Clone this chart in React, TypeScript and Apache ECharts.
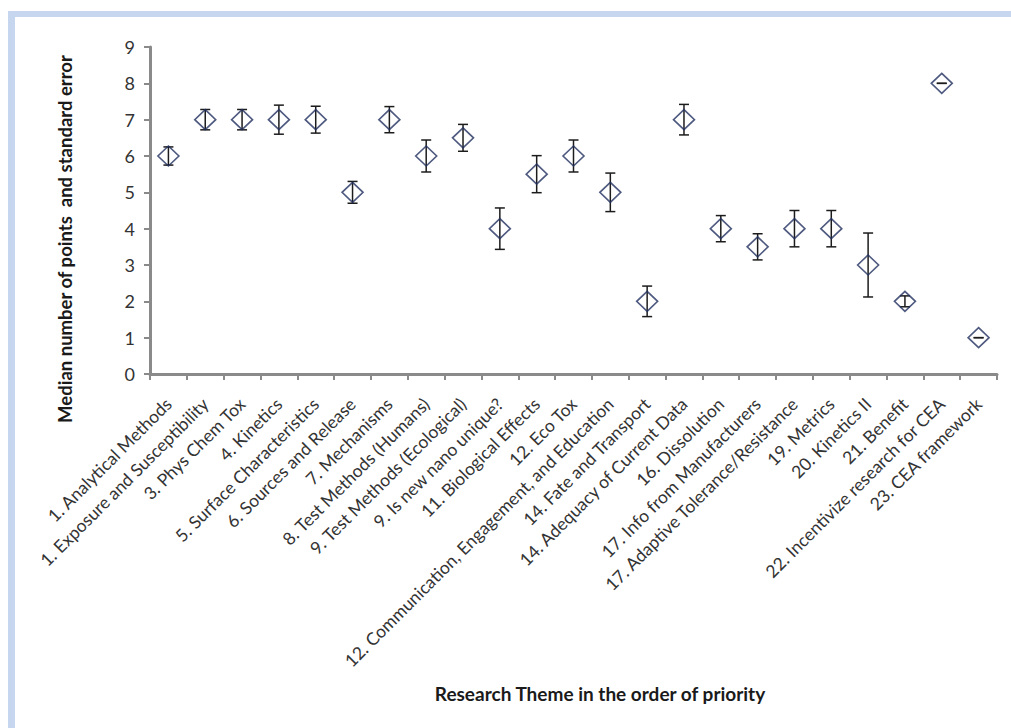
import React, { useEffect, useRef } from "react";
import * as echarts from "echarts";

const categories = [
  "1. Analytical Methods",
  "1. Exposure and Susceptibility",
  "3. Phys Chem Tox",
  "4. Kinetics",
  "5. Surface Characteristics",
  "6. Sources and Release",
  "7. Mechanisms",
  "8. Test Methods (Humans)",
  "9. Test Methods (Ecological)",
  "9. Is new nano unique?",
  "11. Biological Effects",
  "12. Eco Tox",
  "12. Communication, Engagement, and Education",
  "14. Fate and Transport",
  "14. Adequacy of Current Data",
  "16. Dissolution",
  "17. Info from Manufacturers",
  "17. Adaptive Tolerance/Resistance",
  "19. Metrics",
  "20. Kinetics II",
  "21. Benefit",
  "22. Incentivize research for CEA",
  "23. CEA framework",
];

const medians = [6, 7, 7, 7, 7, 5, 7, 6, 6.5, 4, 5.5, 6, 5, 2, 7, 4, 3.5, 4, 4, 3, 2, 8, 1];
const stdErrors = [
  0.25, 0.28, 0.28, 0.4, 0.37, 0.3, 0.36, 0.44, 0.37, 0.57, 0.51, 0.44, 0.53, 0.42, 0.42, 0.36,
  0.36, 0.5, 0.5, 0.88, 0.15, 0, 0,
];

const yMin = 0;
const yMax = 9;
const yInterval = 1;

const yTitle = "Median number of points  and standard error";
const xTitle = "Research Theme in the order of priority";

const FONT = "Lato, 'Open Sans', 'DejaVu Sans', sans-serif";

export default function App() {
  const ref = useRef<HTMLDivElement>(null);

  useEffect(() => {
    if (!ref.current) return;
    const chart = echarts.init(ref.current, null, { renderer: "svg" });
    const errData = categories.map((c, i) => [i, medians[i], stdErrors[i]]);
    const option = {
      animation: false,
      backgroundColor: "#ffffff",
      textStyle: { fontFamily: FONT },
      grid: { left: 150, right: 14, top: 47, bottom: 354, containLabel: false },
      graphic: [
        { type: "rect", shape: { x: 8, y: 11, width: 1003, height: 6 }, style: { fill: "#c6d6ee" }, silent: true },
        { type: "rect", shape: { x: 8, y: 11, width: 7, height: 717 }, style: { fill: "#c6d6ee" }, silent: true },
        {
          type: "text",
          x: 65,
          y: 239,
          rotation: Math.PI / 2,
          style: {
            text: yTitle,
            fontFamily: FONT,
            fontSize: 18.5,
            fontWeight: "bold",
            fill: "#1a1a1a",
            textAlign: "center",
            textVerticalAlign: "middle",
          },
        },
        {
          type: "text",
          x: 600,
          y: 693,
          style: {
            text: xTitle,
            fontFamily: FONT,
            fontSize: 19,
            fontWeight: "bold",
            fill: "#1a1a1a",
            textAlign: "center",
            textVerticalAlign: "middle",
          },
        },
      ],
      xAxis: {
        type: "category",
        data: categories,
        boundaryGap: true,
        axisLine: { show: true, lineStyle: { color: "#8a8a8a", width: 3 } },
        axisTick: { show: true, alignWithLabel: false, length: 6, lineStyle: { color: "#8a8a8a", width: 2 } },
        axisLabel: {
          interval: 0,
          rotate: 45,
          margin: 27,
          fontSize: 17.5,
          color: "#333333",
          fontFamily: FONT,
        },
        splitLine: { show: false },
      },
      yAxis: {
        type: "value",
        min: yMin,
        max: yMax,
        interval: yInterval,
        axisLine: { show: true, lineStyle: { color: "#8a8a8a", width: 3 } },
        axisTick: { show: true, length: 6, lineStyle: { color: "#8a8a8a", width: 2 } },
        axisLabel: { fontSize: 18, color: "#333333", margin: 15, fontFamily: FONT },
        splitLine: { show: false },
      },
      series: [
        {
          type: "custom",
          data: errData,
          encode: { x: 0, y: 1 },
          z: 2,
          renderItem: (params: any, api: any) => {
            const x = api.value(0);
            const m = api.value(1);
            const e = api.value(2);
            const top = api.coord([x, m + e]);
            const bot = api.coord([x, m - e]);
            const hw = 5;
            const style = { stroke: "#1c1c1c", lineWidth: 1.5 };
            return {
              type: "group",
              children: [
                { type: "line", shape: { x1: top[0], y1: top[1], x2: bot[0], y2: bot[1] }, style },
                { type: "line", shape: { x1: top[0] - hw, y1: top[1], x2: top[0] + hw, y2: top[1] }, style },
                { type: "line", shape: { x1: bot[0] - hw, y1: bot[1], x2: bot[0] + hw, y2: bot[1] }, style },
              ],
            };
          },
        },
        {
          type: "scatter",
          data: medians,
          symbol: "diamond",
          symbolSize: [21, 20],
          z: 3,
          itemStyle: { color: "rgba(255,255,255,0)", borderColor: "#22305f", borderWidth: 1.6 },
        },
      ],
    };
    chart.setOption(option as any);
    return () => chart.dispose();
  }, []);

  return (
    <div
      ref={ref}
      style={{ position: "absolute", left: 0, top: 0, width: 1011, height: 728 }}
    />
  );
}
